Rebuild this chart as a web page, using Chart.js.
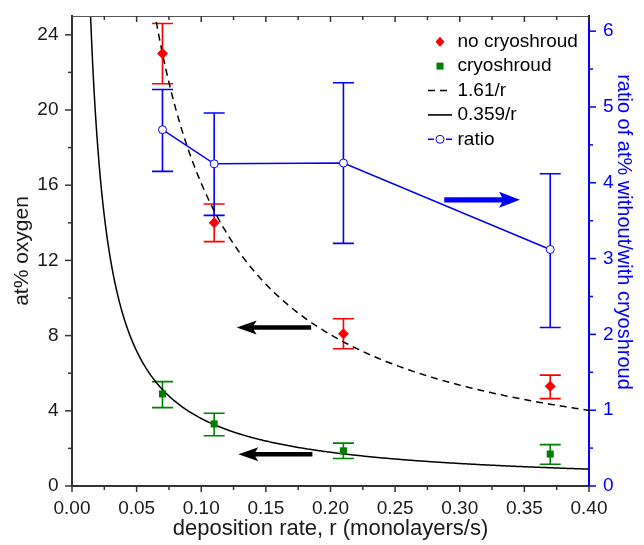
<!DOCTYPE html>
<html><head><meta charset="utf-8">
<script src="https://cdn.jsdelivr.net/npm/chart.js@4.4.0/dist/chart.umd.min.js"></script>
<style>html,body{margin:0;padding:0;background:#fff}canvas{display:block}</style>
</head><body>
<canvas id="c" width="644" height="545"></canvas>
<script>
// ---- data ----
const rates = [0.07, 0.11, 0.21, 0.37];
const noCryo = [23.0, 14.0, 8.1, 5.3];
const noCryoLow = [21.4, 13.0, 7.3, 4.65];
const noCryoHigh = [24.6, 15.0, 8.9, 5.9];
const cryo = [4.9, 3.3, 1.87, 1.7];
const cryoLow = [4.17, 2.67, 1.46, 1.16];
const cryoHigh = [5.55, 3.87, 2.28, 2.2];
const ratio = [4.70, 4.25, 4.26, 3.12];
const ratioLow = [4.15, 3.57, 3.20, 2.09];
const ratioHigh = [5.23, 4.92, 5.32, 4.12];
const fitCoefs = [1.61, 0.359];
const fitLabels = ['1.61/r', '0.359/r'];
const xTickValues = [0, 0.05, 0.10, 0.15, 0.20, 0.25, 0.30, 0.35, 0.40];
const xTickLabels = ['0.00','0.05','0.10','0.15','0.20','0.25','0.30','0.35','0.40'];
const yLeftTicks = [0, 4, 8, 12, 16, 20, 24];
const yRightTicks = [0, 1, 2, 3, 4, 5, 6];
const rightTitle = 'ratio of at% without/with cryoshroud';
// annotation arrows (data space)
const arrows = [
  {x0: 0.185, x1: 0.1274, y: 8.43, axis: 'y'},
  {x0: 0.186, x1: 0.1287, y: 1.69, axis: 'y'},
  {x0: 0.288, x1: 0.3466, y: 3.775, axis: 'y2'}
];

const FONT = '"Liberation Sans", Arial, sans-serif';
const RED = '#ff0000', GREEN = '#008000', BLUE = '#0000ff', AX = '#333333';

function fitData(c) {
  const pts = [];
  for (let r = 0.005; r <= 0.4000001; r += 0.001) pts.push({x: r, y: c / r});
  return pts;
}
const pts = (ys) => rates.map((x, i) => ({x, y: ys[i]}));

const errorBars = {
  id: 'errorBars',
  beforeDatasetsDraw(chart) {
    const {ctx} = chart;
    chart.data.datasets.forEach(ds => {
      if (!ds.errLow) return;
      const xs = chart.scales.x, ys = chart.scales[ds.yAxisID];
      ctx.save();
      ctx.strokeStyle = ds.errColor;
      ctx.lineWidth = 1.6;
      ds.data.forEach((p, i) => {
        const px = xs.getPixelForValue(p.x);
        const lo = ys.getPixelForValue(ds.errLow[i]);
        const hi = ys.getPixelForValue(ds.errHigh[i]);
        ctx.beginPath();
        ctx.moveTo(px, lo); ctx.lineTo(px, hi);
        ctx.moveTo(px - 10.5, lo); ctx.lineTo(px + 10.5, lo);
        ctx.moveTo(px - 10.5, hi); ctx.lineTo(px + 10.5, hi);
        ctx.stroke();
      });
      ctx.restore();
    });
  }
};

const arrowPlugin = {
  id: 'arrows',
  afterDatasetsDraw(chart) {
    const {ctx} = chart;
    arrows.forEach(a => {
      const xs = chart.scales.x, ys = chart.scales[a.axis];
      const x0 = xs.getPixelForValue(a.x0), x1 = xs.getPixelForValue(a.x1);
      const y = ys.getPixelForValue(a.y);
      const blue = a.axis === 'y2';
      const dir = Math.sign(x1 - x0);
      const headL = blue ? 18 : 17, headH = blue ? 8 : 7, shaft = blue ? 2.6 : 2.2;
      ctx.save();
      ctx.fillStyle = blue ? BLUE : '#000';
      ctx.beginPath();
      ctx.moveTo(x0, y - shaft);
      ctx.lineTo(x1 - dir * headL, y - shaft);
      ctx.lineTo(x1 - dir * (headL + 3), y - headH);
      ctx.lineTo(x1, y);
      ctx.lineTo(x1 - dir * (headL + 3), y + headH);
      ctx.lineTo(x1 - dir * headL, y + shaft);
      ctx.lineTo(x0, y + shaft);
      ctx.closePath();
      ctx.fill();
      ctx.restore();
    });
  }
};

const axisTicks = {
  id: 'axisTicks',
  afterDraw(chart) {
    const {ctx, chartArea: a, scales: {x, y, y2}} = chart;
    const seg = (x1, y1, x2, y2_) => { ctx.beginPath(); ctx.moveTo(x1, y1); ctx.lineTo(x2, y2_); ctx.stroke(); };
    const withMinor = (vals) => {
      const out = [];
      vals.forEach((v, i) => { out.push([v, true]); if (i < vals.length - 1) out.push([(v + vals[i + 1]) / 2, false]); });
      return out;
    };
    ctx.save();
    ctx.strokeStyle = '#555'; ctx.lineWidth = 1;
    seg(a.left, a.top + 0.5, a.right, a.top + 0.5);
    ctx.strokeStyle = AX; ctx.lineWidth = 1.5;
    withMinor(xTickValues).forEach(([v, maj]) => {
      const px = x.getPixelForValue(v);
      seg(px, a.bottom, px, a.bottom + (maj ? 6 : 4));
      seg(px, a.top, px, a.top + (maj ? 6 : 4));
    });
    withMinor(yLeftTicks).forEach(([v, maj]) => {
      const py = y.getPixelForValue(v);
      seg(a.left, py, a.left - (maj ? 7 : 4), py);
    });
    ctx.strokeStyle = BLUE;
    withMinor(yRightTicks).forEach(([v, maj]) => {
      const py = y2.getPixelForValue(v);
      seg(a.right, py, a.right + (maj ? 7 : 4), py);
    });
    // right axis title
    ctx.fillStyle = BLUE;
    ctx.font = '20px ' + FONT;
    ctx.textAlign = 'center';
    ctx.textBaseline = 'middle';
    ctx.translate(y2.right - 20, (a.top + a.bottom) / 2 - 19);
    ctx.rotate(Math.PI / 2);
    ctx.fillText(rightTitle, 0, 0);
    ctx.restore();
  }
};

const legendPlugin = {
  id: 'customLegend',
  afterDraw(chart) {
    const {ctx, chartArea: a} = chart;
    const sx = a.right - 149, tx = a.right - 131.5;
    ctx.save();
    ctx.font = '19px ' + FONT;
    ctx.textBaseline = 'middle';
    ctx.textAlign = 'left';
    const items = chart.data.datasets.slice().sort((p, q) => p.legendOrder - q.legendOrder);
    items.forEach((ds, i) => {
      const yy = a.top + 25.7 + i * 24.4;
      ctx.fillStyle = '#000';
      ctx.fillText(ds.label, tx, yy);
      if (ds.legendKind === 'diamond') {
        ctx.fillStyle = ds.backgroundColor;
        ctx.beginPath(); ctx.moveTo(sx, yy - 5); ctx.lineTo(sx + 4.5, yy); ctx.lineTo(sx, yy + 5); ctx.lineTo(sx - 4.5, yy); ctx.closePath(); ctx.fill();
      } else if (ds.legendKind === 'square') {
        ctx.fillStyle = ds.backgroundColor;
        ctx.fillRect(sx - 3.5, yy - 3.5, 7, 7);
      } else if (ds.legendKind === 'line') {
        ctx.strokeStyle = ds.borderColor; ctx.lineWidth = 1.6;
        ctx.setLineDash(ds.borderDash || []);
        ctx.beginPath(); ctx.moveTo(sx - 12, yy); ctx.lineTo(sx + 12, yy); ctx.stroke();
        ctx.setLineDash([]);
      } else if (ds.legendKind === 'ratio') {
        ctx.strokeStyle = ds.borderColor; ctx.lineWidth = 1.4;
        ctx.beginPath(); ctx.moveTo(sx - 12, yy); ctx.lineTo(sx - 6, yy); ctx.moveTo(sx + 6, yy); ctx.lineTo(sx + 12, yy); ctx.stroke();
        ctx.lineWidth = 1;
        ctx.beginPath(); ctx.arc(sx, yy, 4, 0, Math.PI * 2); ctx.fillStyle = '#fff'; ctx.fill(); ctx.stroke();
      }
    });
    ctx.restore();
  }
};

const tickFont = {family: FONT, size: 19};
const noPad = s => { s.paddingTop = 0; s.paddingBottom = 0; s.paddingLeft = 0; s.paddingRight = 0; };

new Chart(document.getElementById('c'), {
  type: 'scatter',
  data: {
    datasets: [
      {label: 'no cryoshroud', legendOrder: 0, legendKind: 'diamond', data: pts(noCryo), yAxisID: 'y',
       errLow: noCryoLow, errHigh: noCryoHigh, errColor: RED,
       pointStyle: 'rectRot', pointRadius: 5.5, backgroundColor: RED, borderColor: RED, pointBorderWidth: 0, showLine: false},
      {label: 'cryoshroud', legendOrder: 1, legendKind: 'square', data: pts(cryo), yAxisID: 'y',
       errLow: cryoLow, errHigh: cryoHigh, errColor: GREEN,
       pointStyle: 'rect', pointRadius: 5, backgroundColor: GREEN, borderColor: GREEN, pointBorderWidth: 0, showLine: false},
      {label: 'ratio', legendOrder: 4, legendKind: 'ratio', data: pts(ratio), yAxisID: 'y2',
       errLow: ratioLow, errHigh: ratioHigh, errColor: BLUE,
       showLine: true, borderColor: BLUE, borderWidth: 1.5, pointStyle: 'circle', pointRadius: 4,
       pointBackgroundColor: '#fff', pointBorderColor: BLUE, pointBorderWidth: 1, backgroundColor: '#fff'},
      {label: fitLabels[0], legendOrder: 2, legendKind: 'line', data: fitData(fitCoefs[0]), yAxisID: 'y',
       showLine: true, borderColor: '#000', borderWidth: 1.5, borderDash: [7, 5], pointRadius: 0},
      {label: fitLabels[1], legendOrder: 3, legendKind: 'line', data: fitData(fitCoefs[1]), yAxisID: 'y',
       showLine: true, borderColor: '#000', borderWidth: 1.5, pointRadius: 0}
    ]
  },
  options: {
    responsive: false, animation: false, devicePixelRatio: 1,
    layout: {padding: {top: 16, left: 0, right: 0, bottom: 0}},
    plugins: {legend: {display: false}, tooltip: {enabled: false}},
    scales: {
      x: {
        type: 'linear', position: 'bottom', min: 0, max: 0.4,
        afterBuildTicks: s => { s.ticks = xTickValues.map(v => ({value: v})); },
        afterFit: s => { s.height = 59; noPad(s); },
        ticks: {font: tickFont, color: '#1a1a1a', padding: 11, maxRotation: 0, autoSkip: false,
                callback: (v, i) => xTickLabels[i]},
        grid: {display: false, drawTicks: false},
        border: {display: true, color: AX, width: 2},
        title: {display: true, text: 'deposition rate, r (monolayers/s)', font: {family: FONT, size: 22},
                color: '#1a1a1a', padding: {top: 0, bottom: 3}}
      },
      y: {
        type: 'linear', position: 'left', min: 0, max: 25,
        afterBuildTicks: s => { s.ticks = yLeftTicks.map(v => ({value: v})); },
        afterFit: s => { s.width = 72; noPad(s); },
        ticks: {font: tickFont, color: '#1a1a1a', padding: 13.5, callback: v => String(v)},
        grid: {display: false, drawTicks: false},
        border: {display: true, color: AX, width: 2},
        title: {display: true, text: 'at% oxygen', font: {family: FONT, size: 21}, color: '#1a1a1a',
                padding: {top: 10, bottom: 0}}
      },
      y2: {
        type: 'linear', position: 'right', min: 0, max: 6.2,
        afterBuildTicks: s => { s.ticks = yRightTicks.map(v => ({value: v})); },
        afterFit: s => { s.width = 55; noPad(s); },
        ticks: {font: tickFont, color: BLUE, padding: 14, callback: v => String(v)},
        grid: {display: false, drawTicks: false},
        border: {display: true, color: BLUE, width: 2},
        title: {display: false}
      }
    }
  },
  plugins: [errorBars, arrowPlugin, axisTicks, legendPlugin]
});
</script>
</body></html>
